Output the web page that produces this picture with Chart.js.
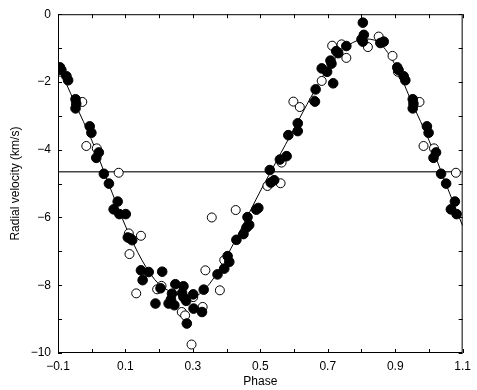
<!DOCTYPE html>
<html>
<head>
<meta charset="utf-8">
<script src="https://cdn.jsdelivr.net/npm/chart.js@4.4.1/dist/chart.umd.min.js"></script>
<style>
  html, body { margin: 0; padding: 0; background: #fff; }
  #wrap { width: 477px; height: 390px; }
</style>
</head>
<body>
<div id="wrap"><canvas id="rv"></canvas></div>
<script>
// Measured radial velocities, phase folded on [0, 1)
const filledPhase = [0.0135, 0.021, 0.036, 0.051, 0.065, 0.077, 0.082, 0.101, 0.107, 0.115,
  0.120, 0.146, 0.151, 0.169, 0.189, 0.204, 0.209, 0.228, 0.235, 0.238,
  0.245, 0.248, 0.268, 0.272, 0.272, 0.280, 0.282, 0.301, 0.302, 0.327,
  0.332, 0.373, 0.393, 0.403, 0.408, 0.429, 0.450, 0.459, 0.467, 0.462,
  0.488, 0.494, 0.528, 0.531, 0.541, 0.558, 0.578, 0.583, 0.611, 0.611,
  0.662, 0.664, 0.682, 0.698, 0.708, 0.711, 0.716, 0.725, 0.731, 0.755,
  0.800, 0.804, 0.804, 0.807, 0.856, 0.866, 0.906, 0.910, 0.925, 0.930,
  0.952, 0.954, 0.952, 0.994, 0.999];
const filledVel = [-4.24, -4.08, -4.71, -5.00, -5.76, -5.53, -5.90, -5.90, -6.59, -6.62,
  -6.67, -7.56, -7.85, -7.61, -8.54, -8.09, -7.60, -8.54, -8.42, -8.25,
  -8.59, -7.97, -8.23, -8.03, -8.35, -8.46, -9.13, -8.27, -8.69, -8.79,
  -8.13, -7.68, -7.51, -7.14, -7.31, -6.66, -6.49, -6.30, -6.22, -5.99,
  -5.77, -5.72, -4.60, -4.97, -4.90, -4.29, -4.19, -3.57, -3.22, -3.45,
  -2.58, -2.22, -1.60, -1.70, -1.37, -1.46, -2.04, -1.09, -1.15, -0.94,
  -0.74, -0.25, -0.81, -0.61, -0.85, -0.81, -1.57, -1.65, -1.83, -1.95,
  -2.51, -2.64, -2.78, -3.31, -3.50];

const openPhase = [0.015, 0.080, 0.110, 0.112, 0.132, 0.146, 0.194, 0.207, 0.267, 0.277,
  0.296, 0.301, 0.329, 0.337, 0.356, 0.380, 0.393, 0.427, 0.521, 0.560,
  0.563, 0.598, 0.617, 0.659, 0.682, 0.713, 0.741, 0.755, 0.819, 0.851,
  0.892, 0.908, 0.972, 0.984];
const openVel = [-3.96, -4.68, -6.47, -7.08, -8.24, -6.54, -8.12, -8.02, -8.79, -8.89,
  -9.75, -8.35, -8.64, -7.56, -6.00, -8.15, -7.26, -5.78, -5.07, -4.99,
  -4.38, -2.58, -2.74, -2.55, -1.97, -0.93, -0.89, -1.29, -0.97, -0.66,
  -1.23, -1.70, -2.59, -3.89];

// Orbit fit
const fitPhase = [-0.10, -0.05, 0.00, 0.05, 0.10, 0.15, 0.20, 0.25, 0.30, 0.35, 0.40, 0.45, 0.50,
  0.55, 0.60, 0.65, 0.70, 0.75, 0.80, 0.85, 0.90, 0.95, 1.00, 1.05, 1.10];
const fitVel = [-1.50, -2.62, -3.72, -5.00, -6.25, -7.28, -7.98, -8.25, -8.37, -7.95, -7.15, -6.20, -5.22,
  -4.30, -3.38, -2.45, -1.60, -1.00, -0.74, -0.82, -1.50, -2.62, -3.72, -5.00, -6.25];

const systemicVel = -4.65;

const xTicks = [-0.1, 0, 0.1, 0.2, 0.3, 0.4, 0.5, 0.6, 0.7, 0.8, 0.9, 1.0, 1.1];
const xLabels = [-0.1, 0.1, 0.3, 0.5, 0.7, 0.9, 1.1];
const yTicks = [0, -1, -2, -3, -4, -5, -6, -7, -8, -9, -10];
const yLabels = [0, -2, -4, -6, -8, -10];

// points near the ends of the cycle are shown twice, like the original plot
function fold(phases, vels) {
  const out = [];
  phases.forEach((p, i) => {
    out.push({ x: p, y: vels[i] });
    if (p >= 0.9) out.push({ x: p - 1, y: vels[i] });
    if (p <= 0.1) out.push({ x: p + 1, y: vels[i] });
  });
  return out;
}

function fmt(v) {
  const s = String(Math.round(v * 10) / 10);
  return s.replace('-', '\u2212');
}

const FONT = "'Liberation Sans', Arial, Helvetica, sans-serif";

// inward tick marks on all four sides plus the frame
const frameTicks = {
  id: 'frameTicks',
  afterDraw(chart) {
    const { ctx, chartArea: a, scales } = chart;
    ctx.save();
    ctx.strokeStyle = '#000';
    ctx.lineWidth = 1;
    ctx.strokeRect(a.left + 0.5, a.top + 0.5, a.right - a.left - 1, a.bottom - a.top - 1);
    ctx.beginPath();
    xTicks.forEach(v => {
      const px = Math.round(scales.x.getPixelForValue(v)) + 0.5;
      ctx.moveTo(px, a.bottom); ctx.lineTo(px, a.bottom - 4);
      ctx.moveTo(px, a.top); ctx.lineTo(px, a.top + 4);
    });
    yTicks.forEach(v => {
      const py = Math.round(scales.y.getPixelForValue(v)) + 0.5;
      ctx.moveTo(a.left, py); ctx.lineTo(a.left + 4, py);
      ctx.moveTo(a.right, py); ctx.lineTo(a.right - 4, py);
    });
    ctx.stroke();
    ctx.restore();
  }
};

new Chart(document.getElementById('rv'), {
  type: 'scatter',
  data: {
    datasets: [
      {
        label: 'mean',
        type: 'line',
        data: [{ x: -0.1, y: systemicVel }, { x: 1.1, y: systemicVel }],
        borderColor: '#444',
        borderWidth: 1.3,
        pointRadius: 0,
        order: 4
      },
      {
        label: 'fit',
        type: 'line',
        data: fitPhase.map((p, i) => ({ x: p, y: fitVel[i] })),
        borderColor: '#000',
        borderWidth: 1,
        pointRadius: 0,
        tension: 0.3,
        order: 3
      },
      {
        label: 'open',
        data: fold(openPhase, openVel),
        pointRadius: 4.5,
        pointBackgroundColor: '#fff',
        pointBorderColor: '#000',
        pointBorderWidth: 1,
        order: 2
      },
      {
        label: 'filled',
        data: fold(filledPhase, filledVel),
        pointRadius: 4.8,
        pointBackgroundColor: '#000',
        pointBorderColor: '#000',
        pointBorderWidth: 1,
        order: 1
      }
    ]
  },
  options: {
    responsive: true,
    maintainAspectRatio: false,
    animation: false,
    layout: { padding: { left: 0, right: 13, top: 14, bottom: 0 } },
    plugins: { legend: { display: false }, tooltip: { enabled: false } },
    scales: {
      x: {
        type: 'linear',
        min: -0.1,
        max: 1.1,
        afterBuildTicks: s => { s.ticks = xTicks.map(v => ({ value: v })); },
        afterFit: s => { s.height = 37; },
        grid: { display: false, drawTicks: false, tickLength: 0 },
        border: { display: false },
        ticks: {
          autoSkip: false,
          maxRotation: 0,
          padding: 6,
          color: '#000',
          font: { family: FONT, size: 12 },
          callback: v => xLabels.some(l => Math.abs(l - v) < 1e-6) ? fmt(v) : ''
        },
        title: {
          display: true,
          text: 'Phase',
          color: '#000',
          font: { family: FONT, size: 12 },
          padding: { top: 0, bottom: 1 }
        }
      },
      y: {
        type: 'linear',
        min: -10,
        max: 0,
        afterBuildTicks: s => { s.ticks = yTicks.map(v => ({ value: v })); },
        afterFit: s => { s.width = 58; },
        grid: { display: false, drawTicks: false, tickLength: 0 },
        border: { display: false },
        ticks: {
          autoSkip: false,
          padding: 7,
          color: '#000',
          font: { family: FONT, size: 12 },
          callback: v => yLabels.includes(Math.round(v)) ? fmt(v) : ''
        },
        title: {
          display: true,
          text: 'Radial velocity (km/s)',
          color: '#000',
          font: { family: FONT, size: 12 },
          padding: { top: 8, bottom: 0 }
        }
      }
    }
  },
  plugins: [frameTicks]
});
</script>
</body>
</html>
